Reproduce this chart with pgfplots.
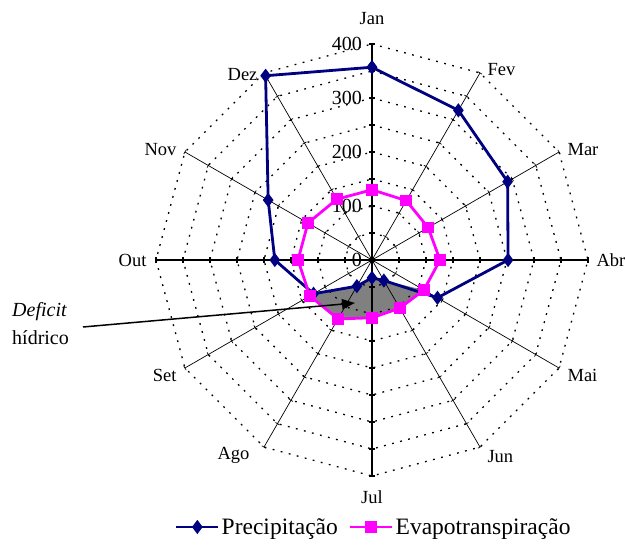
\documentclass[border=0pt]{standalone}
\usepackage{fontspec}
\setmainfont{Liberation Serif}
\usepackage{pgfplots}
\usepackage{pgfplotstable}
\pgfplotsset{compat=1.18}
\usepgfplotslibrary{polar}
\usetikzlibrary{arrows.meta}
\definecolor{prec}{RGB}{0,0,128}
\definecolor{evap}{RGB}{255,0,255}
\definecolor{defgray}{RGB}{128,128,128}

% angle (degrees, Jan at top, clockwise), Precipitacao, Evapotranspiracao
\pgfplotstableread{
ang  P    E
90   357  130
60   320  127
30   290  120
0    252  126
330  140  111
300  44   103
270  33   107
240  56   126
210  125  133
180  180  137
150  222  137
120  394  130
90   357  130
}\datatable

\newcommand{\fs}{\fontsize{18.5}{21}\selectfont}
\newcommand{\ft}{\fontsize{20}{23}\selectfont}

\begin{document}
\begin{tikzpicture}[x=1pt,y=1pt]
\path[use as bounding box] (-372,-288) rectangle (253,260);
\begin{polaraxis}[
  at={(0,0)}, anchor=origin,
  scale only axis, width=432pt, height=432pt,
  xmin=0, xmax=360, ymin=0, ymax=400,
  hide axis, clip=false,
  legend columns=2,
  legend style={at={(0.504,-0.118)}, anchor=center, draw=none, fill=none,
    font=\fontsize{23.5}{27}\selectfont, /tikz/every even column/.append style={column sep=9pt}},
  legend image code/.code={\draw[mark repeat=2,mark phase=2,#1] plot coordinates {(0pt,0pt) (21pt,0pt) (42pt,0pt)};},
]
% deficit area (P < ET)
\addplot[forget plot, fill=defgray, draw=none] coordinates {
  (210,133) (240,126) (270,107) (300,103) (330,111)
  (300,44) (270,33) (240,56) (210,125)};
% grid rings
\pgfplotsinvokeforeach{50,100,150,200,250,300,350,400}{
  \addplot[forget plot, black, line width=1.3pt, dash pattern=on 1.8pt off 6.5pt] coordinates {
   (90,#1) (60,#1) (30,#1) (0,#1) (330,#1) (300,#1) (270,#1) (240,#1) (210,#1) (180,#1) (150,#1) (120,#1) (90,#1)};
}
% spokes
\pgfplotsinvokeforeach{60,30,330,300,240,210,150,120}{
  \addplot[forget plot, black, line width=0.7pt, mark=|, mark size=2.4pt, mark options={rotate=#1, solid}]
   coordinates {(#1,0) (#1,50) (#1,100) (#1,150) (#1,200) (#1,250) (#1,300) (#1,350) (#1,400)};
}
\pgfplotsinvokeforeach{90,270,0,180}{
  \addplot[forget plot, black, line width=1.3pt, mark=|, mark size=3.2pt, mark options={rotate=#1, solid}]
   coordinates {(#1,0) (#1,50) (#1,100) (#1,150) (#1,200) (#1,250) (#1,300) (#1,350) (#1,400)};
}
\fill (axis cs:0,0) circle (3.2pt);
% series
\addplot[prec, line width=2.8pt, mark=diamond*, mark size=4.8pt, mark options={solid, fill=prec}]
  table[x=ang, y=P] {\datatable};
\addlegendentry{Precipitação}
\addplot[evap, line width=2.8pt, mark=square*, mark size=4.4pt, mark options={solid, fill=evap}]
  table[x=ang, y=E] {\datatable};
\addlegendentry{Evapotranspiração}
% tick labels
\pgfplotsinvokeforeach{0,100,200,300,400}{
  \node[anchor=east, font=\ft, inner sep=0pt, xshift=-10pt] at (axis cs:90,#1) {#1};
}
% category labels
\node[anchor=south, font=\fs, yshift=16pt] at (axis cs:90,400) {Jan};
\node[anchor=west, font=\fs, xshift=4pt, yshift=3pt] at (axis cs:60,400) {Fev};
\node[anchor=west, font=\fs, xshift=5pt, yshift=2pt] at (axis cs:30,400) {Mar};
\node[anchor=west, font=\fs, xshift=5pt] at (axis cs:0,400) {Abr};
\node[anchor=west, font=\fs, xshift=5pt, yshift=-7pt] at (axis cs:330,400) {Mai};
\node[anchor=west, font=\fs, xshift=4pt, yshift=-9pt] at (axis cs:300,400) {Jun};
\node[anchor=north, font=\fs, yshift=-11pt] at (axis cs:270,400) {Jul};
\node[anchor=east, font=\fs, xshift=-11pt, yshift=-8pt] at (axis cs:240,400) {Ago};
\node[anchor=east, font=\fs, xshift=-5pt, yshift=-7pt] at (axis cs:210,400) {Set};
\node[anchor=east, font=\fs, xshift=-6pt] at (axis cs:180,400) {Out};
\node[anchor=east, font=\fs, xshift=-5pt, yshift=2pt] at (axis cs:150,400) {Nov};
\node[anchor=east, font=\fs, xshift=-3pt, yshift=-2pt] at (axis cs:120,400) {Dez};
\end{polaraxis}
% annotation
\node[anchor=west, inner sep=0pt, font=\fontsize{20}{24}\selectfont\itshape] at (-360,-52) {Deficit};
\node[anchor=west, inner sep=0pt, font=\fontsize{20}{24}\selectfont] at (-360,-78) {hídrico};
\draw[line width=1.5pt, -{Triangle[length=13pt,width=10pt]}] (-289,-67) -- (-17,-43);
\end{tikzpicture}
\end{document}
